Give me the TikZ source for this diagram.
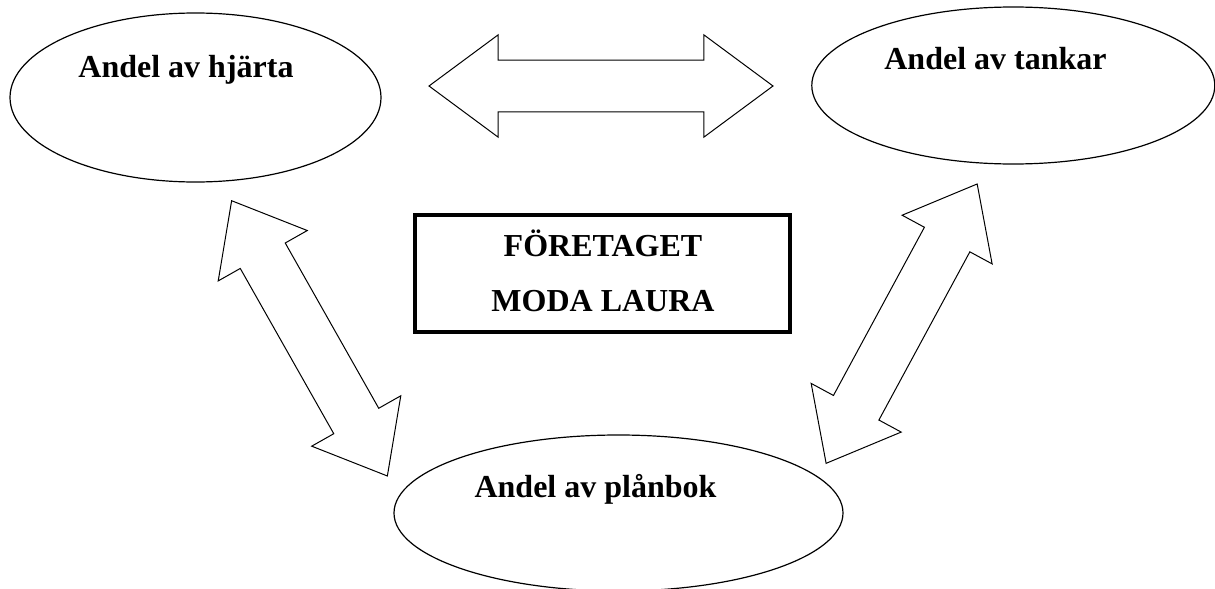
\documentclass[tikz,border=0pt]{standalone}
\usepackage{fontspec}
\setmainfont{Liberation Serif}
\usetikzlibrary{shapes.geometric}
\usetikzlibrary{shapes.arrows}

\begin{document}
\begin{tikzpicture}[x=0.75pt,y=0.75pt,
        share/.style={draw, ellipse, line width=0.9pt, inner sep=0pt},
        firmbox/.style={draw, rectangle, line width=3pt, inner sep=0pt,
            minimum width=281.25pt, minimum height=87.75pt},
        lbl/.style={anchor=base, inner sep=0pt,
            font=\bfseries\fontsize{24pt}{28pt}\selectfont},
        blockarrow/.style={draw, double arrow, line width=0.75pt,
            inner xsep=0pt, inner ysep=19pt,
            minimum width=76.5pt, double arrow head extend=19pt}]
        \useasboundingbox (0,0) rectangle (1215,-589);

        % the three shares
        \node[share, minimum width=278.25pt, minimum height=126.75pt] (hjarta) at (195.5,-97.5) {};
        \node[share, minimum width=302.25pt, minimum height=117.75pt] (tankar) at (1013.3,-85.5) {};
        \node[share, minimum width=336.75pt, minimum height=117pt] (planbok) at (618.5,-513) {};

        \node[lbl] (hjartaTxt) at (186,-77) {Andel av hjärta};
        \node[lbl] (tankarTxt) at (995.5,-69) {Andel av tankar};
        \node[lbl] (planbokTxt) at (595.5,-497) {Andel av plånbok};

        % the company
        \node[firmbox] (firma) at (602.5,-273.5) {};
        \node[lbl] (firmaTop) at (603,-256.7) {FÖRETAGET};
        \node[lbl] (firmaBot) at (603,-311.7) {MODA LAURA};

        % block arrows between the shares
        \node[blockarrow, minimum height=258pt, double arrow tip angle=73] (ht) at (601,-86) {};
        \node[blockarrow, minimum height=237.2pt, double arrow tip angle=78, rotate=-60.5] (hp) at (309.5,-338.35) {};
        \node[blockarrow, minimum height=238.2pt, double arrow tip angle=78, rotate=61.6] (tp) at (901.65,-323.65) {};
    \end{tikzpicture}
\end{document}
